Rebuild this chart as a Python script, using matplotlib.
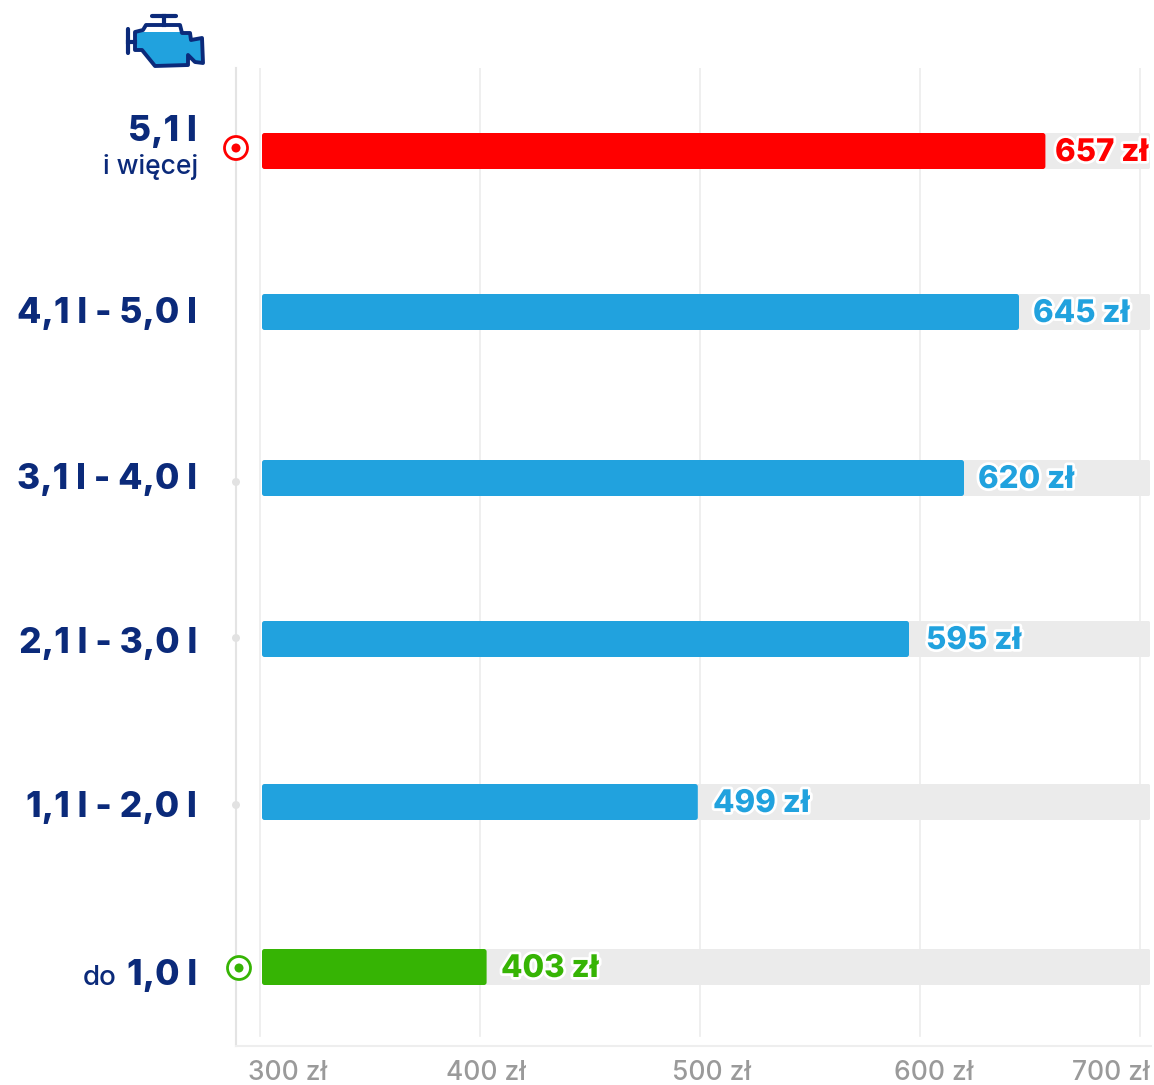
import matplotlib
matplotlib.use("Agg")
import matplotlib.pyplot as plt
import matplotlib.patheffects as pe
from matplotlib.patches import FancyBboxPatch, Polygon, Circle, Rectangle

plt.rcParams['font.family'] = ['Inter', 'DejaVu Sans']

prices = [657, 645, 620, 595, 499, 403]
price_labels = ['657 zł', '645 zł', '620 zł', '595 zł', '499 zł', '403 zł']
x_ticks = [300, 400, 500, 600, 700]
x_tick_labels = ['300 zł', '400 zł', '500 zł', '600 zł', '700 zł']

W, H = 1154, 1085
NAVY = '#0b2a7a'
BLUE = '#21a2de'
RED = '#ff0000'
GREEN = '#36b404'
TRACK = '#ebebeb'
GRID = '#ececec'
GRAY = '#9a9a9a'

bar_colors = [RED, BLUE, BLUE, BLUE, BLUE, GREEN]
# pixel rows of the bars, they are not evenly spaced in the picture
bar_rows = [151, 312, 478, 639, 802, 967]
label_x = [1055, 1033, 978, 926, 713, 501]
BAR_H = 36
X_PER_PX = 1 / 2.2
X0 = 260


def px(x):
    return 300 + (x - X0) * X_PER_PX


fig = plt.figure(figsize=(W / 100, H / 100), dpi=100)
# overlay in picture pixels for the labels and icon
ov = fig.add_axes([0, 0, 1, 1], zorder=3)
ov.set_xlim(0, W)
ov.set_ylim(H, 0)
ov.axis('off')

ax = fig.add_axes([236 / W, 1 - 1046 / H, (1151 - 236) / W, (1046 - 68) / H])
ax.set_xlim(px(236), px(1151))
ax.set_ylim(1046, 68)
for s in ['top', 'right']:
    ax.spines[s].set_visible(False)
ax.spines['left'].set_color('#e4e4e4')
ax.spines['bottom'].set_color('#eeeeee')
ax.spines['left'].set_linewidth(1.5)
ax.spines['bottom'].set_linewidth(1.5)
ax.set_yticks([])
ax.set_xticks([])
ax.patch.set_alpha(0)

for t in x_ticks:
    ax.plot([t, t], [68, 1036], color=GRID, lw=1.2, zorder=1)

for row, price, col in zip(bar_rows, prices, bar_colors):
    ax.add_patch(FancyBboxPatch((px(262), row - BAR_H / 2), px(1150) - px(262), BAR_H,
                                boxstyle="round,pad=0,rounding_size=0.8", mutation_aspect=2.2,
                                fc=TRACK, ec='none', zorder=2))
    ax.add_patch(FancyBboxPatch((px(262), row - BAR_H / 2), price - px(262), BAR_H,
                                boxstyle="round,pad=0,rounding_size=1.2", mutation_aspect=2.2,
                                fc=col, ec='none', zorder=3))

outline = [pe.withStroke(linewidth=4, foreground='white')]
for x, row, txt, col in zip(label_x, bar_rows, price_labels, bar_colors):
    ov.text(x, row + 2, txt, color=col, fontsize=22.5, fontweight='heavy', ha='left', va='center',
            path_effects=outline)

for t, c in zip(x_tick_labels, [288, 486, 712, 934, 1111]):
    ov.text(c, 1073.5, t, color=GRAY, fontsize=19, fontweight='medium', ha='center', va='center')

# row labels
big = dict(color=NAVY, fontsize=25.5, fontweight='heavy', ha='right', va='center')
ov.text(197, 132, '5,1 l', **big)
ov.text(198, 167, 'i więcej', color=NAVY, fontsize=19, fontweight='medium', ha='right', va='center')
ov.text(197, 314, '4,1 l - 5,0 l', **big)
ov.text(197, 480, '3,1 l - 4,0 l', **big)
ov.text(197, 644, '2,1 l - 3,0 l', **big)
ov.text(197, 808, '1,1 l - 2,0 l', **big)
ov.text(197, 975, '1,0 l', **big)
ov.text(117, 978, 'do', color=NAVY, fontsize=20, fontweight='medium', ha='right', va='center')

# marker rings and dots on the axis
for cx, cy, col in [(236, 148, RED), (239, 968, GREEN)]:
    ov.add_patch(Circle((cx, cy), 11.5, fc='white', ec=col, lw=2))
    ov.add_patch(Circle((cx, cy), 4.5, fc=col, ec='none'))
for cy in [482, 638, 805]:
    ov.add_patch(Circle((236, cy), 4, fc='#e2e2e2', ec='none'))

# engine icon
body = [(146, 25), (180, 25), (182, 33), (190, 33), (191, 40), (202, 38), (203, 63), (195, 62),
        (188, 55), (188, 65), (155, 66), (142, 50), (135, 50), (135, 32), (143, 30)]
fill = ov.add_patch(Polygon(body, closed=True, fc=BLUE, ec='none', zorder=2))
fill.set_clip_path(Rectangle((120, 32), 90, 40, transform=ov.transData))
ov.add_patch(Polygon(body, closed=True, fc='none', ec=NAVY, lw=2.8, joinstyle='round', zorder=3))
ov.plot([128, 128], [29, 53], color=NAVY, lw=3, solid_capstyle='round')
ov.plot([128, 135], [42, 42], color=NAVY, lw=3)
ov.plot([152, 176], [15.5, 15.5], color=NAVY, lw=3, solid_capstyle='round')
ov.plot([164, 164], [16, 25], color=NAVY, lw=3)

fig.savefig('out.png', dpi=100, facecolor='white')
